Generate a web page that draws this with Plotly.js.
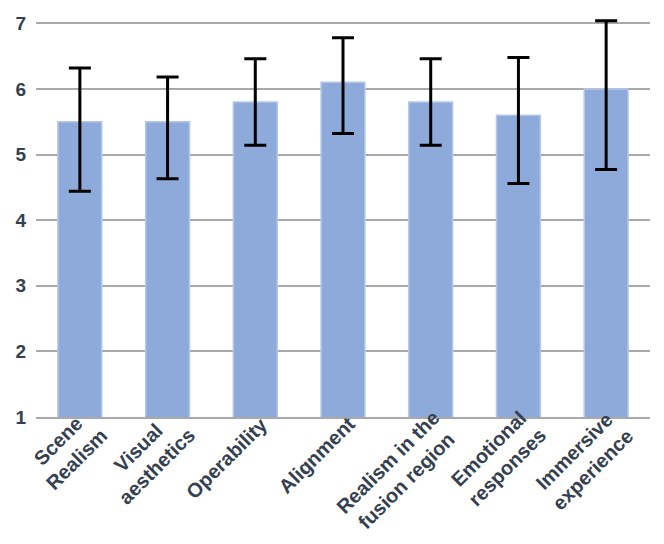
<!DOCTYPE html>
<html><head><meta charset="utf-8">
<script src="https://cdn.plot.ly/plotly-3.0.1.min.js"></script>
<style>html,body{margin:0;padding:0;background:#fff}</style>
</head><body>
<div id="chart" style="width:664px;height:544px"></div>
<script>
const categories = ["Scene<br>Realism", "Visual<br>aesthetics", "Operability", "Alignment", "Realism in the<br>fusion region", "Emotional<br>responses", "Immersive<br>experience"];
const meanScores = [5.5, 5.5, 5.8, 6.1, 5.8, 5.6, 6.0];
const errorUpper = [0.82, 0.68, 0.66, 0.68, 0.66, 0.88, 1.04];
const errorLower = [1.06, 0.87, 0.66, 0.78, 0.66, 1.04, 1.23];
const yTicks = [1, 2, 3, 4, 5, 6, 7];

const textColor = '#353f50';
const labelFont = {family: 'Liberation Sans, Arial, Helvetica, sans-serif', size: 20, color: textColor, weight: 700};
const lineH = labelFont.size * 1.3;

const annotations = categories.map((c, i) => {
  const nLines = c.split('<br>').length;
  const boxH = nLines * lineH + 4;
  return {
    x: i, xref: 'x', y: 0, yref: 'paper',
    text: c, showarrow: false, textangle: -45, align: 'center',
    xanchor: 'right', yanchor: 'top',
    xshift: 0.707 * boxH - 2 - (nLines - 1) * 3,
    yshift: 7 * nLines,
    font: labelFont
  };
});

const trace = {
  type: 'bar',
  x: categories.map((c, i) => i),
  y: meanScores,
  width: 0.5,
  marker: {color: '#8eaadb', line: {color: '#b4c7e7', width: 1.5}},
  error_y: {type: 'data', symmetric: false, array: errorUpper, arrayminus: errorLower,
            color: '#000000', thickness: 3, width: 11},
  cliponaxis: false,
  hoverinfo: 'none'
};

const layout = {
  width: 664, height: 544,
  margin: {l: 36, r: 14, t: 19, b: 127, pad: 0},
  paper_bgcolor: '#ffffff', plot_bgcolor: '#ffffff',
  showlegend: false,
  font: {family: 'Liberation Sans, Arial, Helvetica, sans-serif'},
  xaxis: {type: 'linear', range: [-0.5, 6.5], showgrid: false, zeroline: false,
          showticklabels: false, ticks: '', showline: true, linecolor: '#a9a9a9',
          linewidth: 2, layer: 'below traces', fixedrange: true},
  yaxis: {range: [1, 7.065], tickvals: yTicks, ticktext: yTicks.map(String),
          showgrid: true, gridcolor: '#a9a9a9', gridwidth: 2, zeroline: false,
          showline: false, ticks: '', ticklabelstandoff: 9,
          tickfont: {family: 'Liberation Sans, Arial, Helvetica, sans-serif', size: 19, color: textColor, weight: 700},
          fixedrange: true},
  annotations: annotations
};

Plotly.newPlot('chart', [trace], layout, {displayModeBar: false, staticPlot: true});
</script>
</body></html>
